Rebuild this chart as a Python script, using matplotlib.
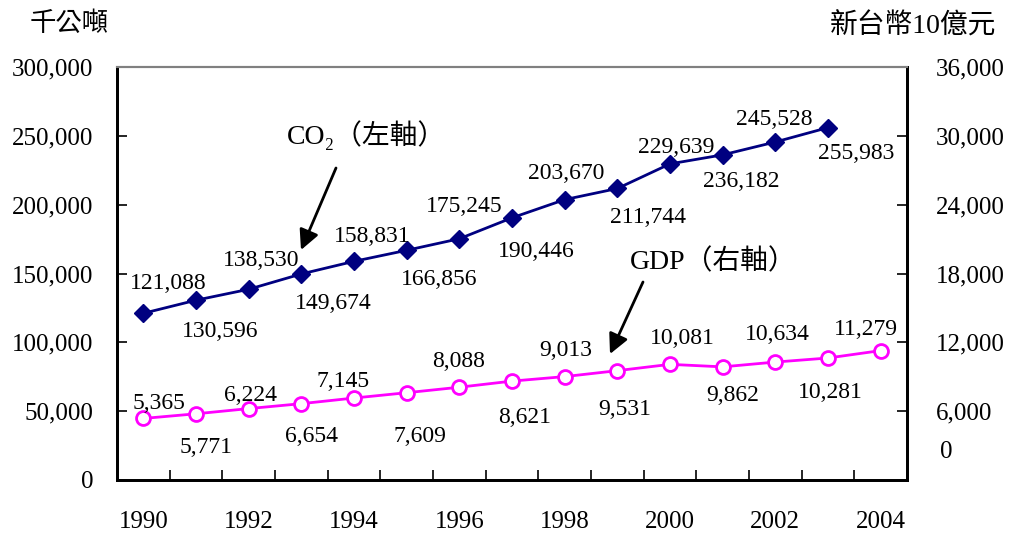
import matplotlib
matplotlib.use("Agg")
import matplotlib.pyplot as plt

plt.rcParams['font.family'] = ['Liberation Serif', 'Noto Sans CJK TC', 'DejaVu Sans']

# data
years = list(range(1990, 2005))
co2_years = list(range(1990, 2004))
co2 = [121088, 130596, 138530, 149674, 158831, 166856, 175245,
       190446, 203670, 211744, 229639, 236182, 245528, 255983]
gdp = [5365, 5771, 6224, 6654, 7145, 7609, 8088, 8621,
       9013, 9531, 10081, 9862, 10281, 10634, 11279]
# labels as printed in the picture (2002/2003 swapped there)
gdp_text = [5365, 5771, 6224, 6654, 7145, 7609, 8088, 8621,
            9013, 9531, 10081, 9862, 10634, 10281, 11279]
year_labels = ['1990', '1992', '1994', '1996', '1998', '2000', '2002', '2004']

# label offsets in pixels (dx, dy with y down as in the picture)
co2_off = [(25, -30), (24, 31), (13, -29), (32, 30), (18, -25), (33, 29), (5, -32),
           (24, 34), (2, -26), (31, 29), (6, -16), (19, 27), (-1, -22), (28, 26)]
gdp_off = [(16, -15), (10, 34), (2, -13), (10, 33), (-11, -17), (13, 44), (-1, -26),
           (13, 36), (1, -26), (7, 39), (12, -26), (10, 29), (2, -28), (2, 34), (-15, -21)]

fig = plt.figure(figsize=(10.15, 5.33), dpi=100)
ax = fig.add_axes([117/1015, 53/533, 790/1015, 413/533])
ax2 = ax.twinx()

ax.plot(co2_years, co2, color='#000080', lw=2, marker='D', ms=9, zorder=3)
ax2.plot(years, gdp, color='#FF00FF', lw=2, marker='o', ms=10,
         mfc='white', mec='#FF00FF', mew=2, zorder=3)

for x, v, (dx, dy) in zip(co2_years, co2, co2_off):
    ax.annotate(f'{v:,}', (x, v), xytext=(dx, -dy), textcoords='offset pixels',
                ha='center', va='center', fontsize=17)
for x, v, t, (dx, dy) in zip(years, gdp, gdp_text, gdp_off):
    ax2.annotate(f'{t:,}', (x, v), xytext=(dx, -dy), textcoords='offset pixels',
                 ha='center', va='center', fontsize=17)

ax.set_xlim(1989.5, 2004.5)
ax.set_ylim(0, 300000)
ax2.set_ylim(0, 36000)

ax.set_xticks([y + 0.5 for y in years[:-1]])
ax.set_xticklabels([])
ax.set_xticks(list(range(1990, 2005, 2)), labels=year_labels, minor=True)
ax.tick_params(axis='x', which='major', direction='in', length=7, width=1.2)
ax.tick_params(axis='x', which='minor', length=0, pad=22, labelsize=18)

ax.set_yticks(range(0, 300001, 50000))
ax.set_yticklabels([f'{v:,}' for v in range(0, 300001, 50000)])
ax.tick_params(axis='y', direction='in', length=7, width=1.2, pad=17, labelsize=18)

ax2.set_yticks(range(6000, 36001, 6000))
ax2.set_yticklabels([f'{v:,}' for v in range(6000, 36001, 6000)])
ax2.tick_params(axis='y', direction='in', length=7, width=1.2, pad=21, labelsize=18)
ax2.text(1.042, 2440, '0', transform=ax2.get_yaxis_transform(), fontsize=18,
         ha='left', va='center')

for a in (ax, ax2):
    a.spines['left'].set_linewidth(2)
    a.spines['bottom'].set_linewidth(2)
    a.spines['right'].set_linewidth(2)
    a.spines['top'].set_color('#808080')
    a.spines['top'].set_linewidth(1.5)

fig.text(30/1015, 1 - 24/533, '千公噸', fontsize=19, ha='left', va='center')
fig.text(996/1015, 1 - 26/533, '新台幣10億元', fontsize=20, ha='right', va='center')


# annotations with arrows (figure pixel coords)
def px(x, y):
    return (x / 1015, 1 - y / 533)


fig.text(*px(366, 135), 'CO₂（左軸）', fontsize=20, ha='center', va='center')
fig.text(*px(713, 262), 'GDP（右軸）', fontsize=20, ha='center', va='center')

arrow = dict(arrowstyle='-|>', color='black', lw=2, mutation_scale=30,
             shrinkA=0, shrinkB=0)
ax.annotate('', xy=px(301, 250), xytext=px(336, 168),
            xycoords='figure fraction', textcoords='figure fraction', arrowprops=arrow)
ax.annotate('', xy=px(610, 354), xytext=px(643, 282),
            xycoords='figure fraction', textcoords='figure fraction', arrowprops=arrow)

fig.savefig('out.png', dpi=100)
